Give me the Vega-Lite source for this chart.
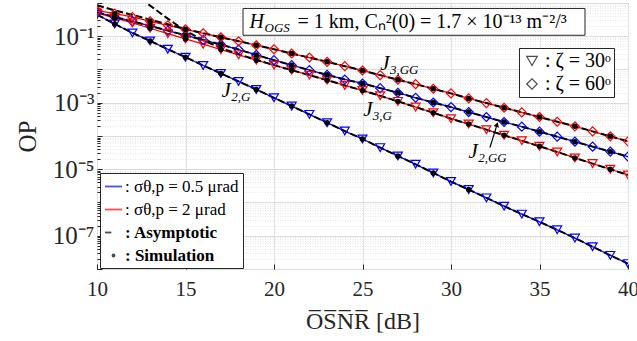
{
"$schema": "https://vega.github.io/schema/vega-lite/v6.json",
"width": 531, "height": 266,
"autosize": {"type": "none"},
"padding": {"left": 97, "top": 3, "right": 9, "bottom": 72},
"background": "white",
"config": {
  "font": "Liberation Serif",
  "view": {"stroke": "#262626", "strokeWidth": 1},
  "axis": {"labelFont": "Liberation Serif", "titleFont": "Liberation Serif", "labelColor": "#262626", "titleColor": "#262626", "titleFontWeight": "normal", "domain": false, "tickColor": "#262626"},
  "legend": {"labelFont": "Liberation Serif", "labelColor": "black"}
},
"datasets": {
"curves": [
{"series":"BT","sigma":"0.5","zeta":"30","osnr":10,"op":0.447,"asym":0.447},
{"series":"BT","sigma":"0.5","zeta":"30","osnr":11,"op":0.234,"asym":0.234,"sim":0.234},
{"series":"BT","sigma":"0.5","zeta":"30","osnr":12,"op":0.126,"asym":0.126},
{"series":"BT","sigma":"0.5","zeta":"30","osnr":13,"op":0.0724,"asym":0.0724,"sim":0.0724},
{"series":"BT","sigma":"0.5","zeta":"30","osnr":14,"op":0.0407,"asym":0.0407},
{"series":"BT","sigma":"0.5","zeta":"30","osnr":15,"op":0.0234,"asym":0.0234,"sim":0.0234},
{"series":"BT","sigma":"0.5","zeta":"30","osnr":16,"op":0.0132,"asym":0.0132},
{"series":"BT","sigma":"0.5","zeta":"30","osnr":17,"op":0.00759,"asym":0.00759,"sim":0.00759},
{"series":"BT","sigma":"0.5","zeta":"30","osnr":18,"op":0.00437,"asym":0.00437},
{"series":"BT","sigma":"0.5","zeta":"30","osnr":19,"op":0.00251,"asym":0.00251,"sim":0.00251},
{"series":"BT","sigma":"0.5","zeta":"30","osnr":20,"op":0.00141,"asym":0.00141},
{"series":"BT","sigma":"0.5","zeta":"30","osnr":21,"op":7.94e-4,"asym":7.94e-4,"sim":7.94e-4},
{"series":"BT","sigma":"0.5","zeta":"30","osnr":22,"op":4.47e-4,"asym":4.47e-4},
{"series":"BT","sigma":"0.5","zeta":"30","osnr":23,"op":2.51e-4,"asym":2.51e-4,"sim":2.51e-4},
{"series":"BT","sigma":"0.5","zeta":"30","osnr":24,"op":1.41e-4,"asym":1.41e-4},
{"series":"BT","sigma":"0.5","zeta":"30","osnr":25,"op":8.13e-5,"asym":8.13e-5,"sim":8.13e-5},
{"series":"BT","sigma":"0.5","zeta":"30","osnr":26,"op":4.47e-5,"asym":4.47e-5},
{"series":"BT","sigma":"0.5","zeta":"30","osnr":27,"op":2.51e-5,"asym":2.51e-5,"sim":2.51e-5},
{"series":"BT","sigma":"0.5","zeta":"30","osnr":28,"op":1.41e-5,"asym":1.41e-5},
{"series":"BT","sigma":"0.5","zeta":"30","osnr":29,"op":7.76e-6,"asym":7.76e-6,"sim":7.76e-6},
{"series":"BT","sigma":"0.5","zeta":"30","osnr":30,"op":4.27e-6,"asym":4.27e-6},
{"series":"BT","sigma":"0.5","zeta":"30","osnr":31,"op":2.45e-6,"asym":2.45e-6,"sim":2.45e-6},
{"series":"BT","sigma":"0.5","zeta":"30","osnr":32,"op":1.38e-6,"asym":1.38e-6},
{"series":"BT","sigma":"0.5","zeta":"30","osnr":33,"op":7.76e-7,"asym":7.76e-7},
{"series":"BT","sigma":"0.5","zeta":"30","osnr":34,"op":4.47e-7,"asym":4.47e-7},
{"series":"BT","sigma":"0.5","zeta":"30","osnr":35,"op":2.63e-7,"asym":2.63e-7},
{"series":"BT","sigma":"0.5","zeta":"30","osnr":36,"op":1.51e-7,"asym":1.51e-7},
{"series":"BT","sigma":"0.5","zeta":"30","osnr":37,"op":8.51e-8,"asym":8.51e-8},
{"series":"BT","sigma":"0.5","zeta":"30","osnr":38,"op":4.68e-8,"asym":4.68e-8},
{"series":"BT","sigma":"0.5","zeta":"30","osnr":39,"op":2.57e-8,"asym":2.57e-8},
{"series":"BT","sigma":"0.5","zeta":"30","osnr":40,"op":1.45e-8,"asym":1.45e-8},
{"series":"BD","sigma":"0.5","zeta":"60","osnr":10,"op":0.525,"asym":0.525},
{"series":"BD","sigma":"0.5","zeta":"60","osnr":11,"op":0.38,"asym":0.38,"sim":0.38},
{"series":"BD","sigma":"0.5","zeta":"60","osnr":12,"op":0.282,"asym":0.282},
{"series":"BD","sigma":"0.5","zeta":"60","osnr":13,"op":0.204,"asym":0.204,"sim":0.204},
{"series":"BD","sigma":"0.5","zeta":"60","osnr":14,"op":0.148,"asym":0.148},
{"series":"BD","sigma":"0.5","zeta":"60","osnr":15,"op":0.107,"asym":0.107,"sim":0.107},
{"series":"BD","sigma":"0.5","zeta":"60","osnr":16,"op":0.0776,"asym":0.0776},
{"series":"BD","sigma":"0.5","zeta":"60","osnr":17,"op":0.0562,"asym":0.0562,"sim":0.0562},
{"series":"BD","sigma":"0.5","zeta":"60","osnr":18,"op":0.0398,"asym":0.0398},
{"series":"BD","sigma":"0.5","zeta":"60","osnr":19,"op":0.0275,"asym":0.0275,"sim":0.0275},
{"series":"BD","sigma":"0.5","zeta":"60","osnr":20,"op":0.0191,"asym":0.0191},
{"series":"BD","sigma":"0.5","zeta":"60","osnr":21,"op":0.0135,"asym":0.0135,"sim":0.0135},
{"series":"BD","sigma":"0.5","zeta":"60","osnr":22,"op":0.00955,"asym":0.00955},
{"series":"BD","sigma":"0.5","zeta":"60","osnr":23,"op":0.00692,"asym":0.00692,"sim":0.00692},
{"series":"BD","sigma":"0.5","zeta":"60","osnr":24,"op":0.00501,"asym":0.00501},
{"series":"BD","sigma":"0.5","zeta":"60","osnr":25,"op":0.0038,"asym":0.0038,"sim":0.0038},
{"series":"BD","sigma":"0.5","zeta":"60","osnr":26,"op":0.00275,"asym":0.00275},
{"series":"BD","sigma":"0.5","zeta":"60","osnr":27,"op":0.002,"asym":0.002,"sim":0.002},
{"series":"BD","sigma":"0.5","zeta":"60","osnr":28,"op":0.00141,"asym":0.00141},
{"series":"BD","sigma":"0.5","zeta":"60","osnr":29,"op":0.00102,"asym":0.00102,"sim":0.00102},
{"series":"BD","sigma":"0.5","zeta":"60","osnr":30,"op":7.41e-4,"asym":7.41e-4},
{"series":"BD","sigma":"0.5","zeta":"60","osnr":31,"op":5.25e-4,"asym":5.25e-4,"sim":5.25e-4},
{"series":"BD","sigma":"0.5","zeta":"60","osnr":32,"op":3.72e-4,"asym":3.72e-4},
{"series":"BD","sigma":"0.5","zeta":"60","osnr":33,"op":2.63e-4,"asym":2.63e-4,"sim":2.63e-4},
{"series":"BD","sigma":"0.5","zeta":"60","osnr":34,"op":1.91e-4,"asym":1.91e-4},
{"series":"BD","sigma":"0.5","zeta":"60","osnr":35,"op":1.35e-4,"asym":1.35e-4,"sim":1.35e-4},
{"series":"BD","sigma":"0.5","zeta":"60","osnr":36,"op":9.55e-5,"asym":9.55e-5},
{"series":"BD","sigma":"0.5","zeta":"60","osnr":37,"op":6.76e-5,"asym":6.76e-5,"sim":6.76e-5},
{"series":"BD","sigma":"0.5","zeta":"60","osnr":38,"op":4.79e-5,"asym":4.79e-5},
{"series":"BD","sigma":"0.5","zeta":"60","osnr":39,"op":3.39e-5,"asym":3.39e-5,"sim":3.39e-5},
{"series":"BD","sigma":"0.5","zeta":"60","osnr":40,"op":2.4e-5,"asym":2.4e-5},
{"series":"RT","sigma":"2","zeta":"30","osnr":10,"op":0.501},
{"series":"RT","sigma":"2","zeta":"30","osnr":11,"op":0.355,"sim":0.355},
{"series":"RT","sigma":"2","zeta":"30","osnr":12,"op":0.251,"asym":2.09},
{"series":"RT","sigma":"2","zeta":"30","osnr":13,"op":0.174,"asym":0.832,"sim":0.174},
{"series":"RT","sigma":"2","zeta":"30","osnr":14,"op":0.12,"asym":0.339},
{"series":"RT","sigma":"2","zeta":"30","osnr":15,"op":0.0832,"asym":0.145,"sim":0.0832},
{"series":"RT","sigma":"2","zeta":"30","osnr":16,"op":0.0575,"asym":0.0759},
{"series":"RT","sigma":"2","zeta":"30","osnr":17,"op":0.0398,"asym":0.0447,"sim":0.0398},
{"series":"RT","sigma":"2","zeta":"30","osnr":18,"op":0.0275,"asym":0.0288},
{"series":"RT","sigma":"2","zeta":"30","osnr":19,"op":0.0191,"asym":0.0195,"sim":0.0191},
{"series":"RT","sigma":"2","zeta":"30","osnr":20,"op":0.0135,"asym":0.0135},
{"series":"RT","sigma":"2","zeta":"30","osnr":21,"op":0.00955,"asym":0.00955,"sim":0.00955},
{"series":"RT","sigma":"2","zeta":"30","osnr":22,"op":0.00676,"asym":0.00676},
{"series":"RT","sigma":"2","zeta":"30","osnr":23,"op":0.00479,"asym":0.00479,"sim":0.00479},
{"series":"RT","sigma":"2","zeta":"30","osnr":24,"op":0.00331,"asym":0.00331},
{"series":"RT","sigma":"2","zeta":"30","osnr":25,"op":0.00234,"asym":0.00234,"sim":0.00234},
{"series":"RT","sigma":"2","zeta":"30","osnr":26,"op":0.00162,"asym":0.00162},
{"series":"RT","sigma":"2","zeta":"30","osnr":27,"op":0.0011,"asym":0.0011,"sim":0.0011},
{"series":"RT","sigma":"2","zeta":"30","osnr":28,"op":7.41e-4,"asym":7.41e-4},
{"series":"RT","sigma":"2","zeta":"30","osnr":29,"op":5.01e-4,"asym":5.01e-4,"sim":5.01e-4},
{"series":"RT","sigma":"2","zeta":"30","osnr":30,"op":3.31e-4,"asym":3.31e-4},
{"series":"RT","sigma":"2","zeta":"30","osnr":31,"op":2.29e-4,"asym":2.29e-4,"sim":2.29e-4},
{"series":"RT","sigma":"2","zeta":"30","osnr":32,"op":1.55e-4,"asym":1.55e-4},
{"series":"RT","sigma":"2","zeta":"30","osnr":33,"op":1.05e-4,"asym":1.05e-4,"sim":1.05e-4},
{"series":"RT","sigma":"2","zeta":"30","osnr":34,"op":7.24e-5,"asym":7.24e-5},
{"series":"RT","sigma":"2","zeta":"30","osnr":35,"op":4.9e-5,"asym":4.9e-5,"sim":4.9e-5},
{"series":"RT","sigma":"2","zeta":"30","osnr":36,"op":3.31e-5,"asym":3.31e-5},
{"series":"RT","sigma":"2","zeta":"30","osnr":37,"op":2.19e-5,"asym":2.19e-5,"sim":2.19e-5},
{"series":"RT","sigma":"2","zeta":"30","osnr":38,"op":1.48e-5,"asym":1.48e-5},
{"series":"RT","sigma":"2","zeta":"30","osnr":39,"op":1.0e-5,"asym":1.0e-5,"sim":1.0e-5},
{"series":"RT","sigma":"2","zeta":"30","osnr":40,"op":6.76e-6,"asym":6.76e-6},
{"series":"RD","sigma":"2","zeta":"60","osnr":10,"op":0.603,"asym":0.851},
{"series":"RD","sigma":"2","zeta":"60","osnr":11,"op":0.479,"asym":0.603,"sim":0.479},
{"series":"RD","sigma":"2","zeta":"60","osnr":12,"op":0.38,"asym":0.437},
{"series":"RD","sigma":"2","zeta":"60","osnr":13,"op":0.282,"asym":0.316,"sim":0.282},
{"series":"RD","sigma":"2","zeta":"60","osnr":14,"op":0.214,"asym":0.229},
{"series":"RD","sigma":"2","zeta":"60","osnr":15,"op":0.162,"asym":0.166,"sim":0.162},
{"series":"RD","sigma":"2","zeta":"60","osnr":16,"op":0.123,"asym":0.123},
{"series":"RD","sigma":"2","zeta":"60","osnr":17,"op":0.0933,"asym":0.0933,"sim":0.0933},
{"series":"RD","sigma":"2","zeta":"60","osnr":18,"op":0.0708,"asym":0.0708},
{"series":"RD","sigma":"2","zeta":"60","osnr":19,"op":0.0537,"asym":0.0537,"sim":0.0537},
{"series":"RD","sigma":"2","zeta":"60","osnr":20,"op":0.0407,"asym":0.0407},
{"series":"RD","sigma":"2","zeta":"60","osnr":21,"op":0.0302,"asym":0.0302,"sim":0.0302},
{"series":"RD","sigma":"2","zeta":"60","osnr":22,"op":0.0229,"asym":0.0229},
{"series":"RD","sigma":"2","zeta":"60","osnr":23,"op":0.017,"asym":0.017,"sim":0.017},
{"series":"RD","sigma":"2","zeta":"60","osnr":24,"op":0.0126,"asym":0.0126},
{"series":"RD","sigma":"2","zeta":"60","osnr":25,"op":0.00933,"asym":0.00933,"sim":0.00933},
{"series":"RD","sigma":"2","zeta":"60","osnr":26,"op":0.00676,"asym":0.00676},
{"series":"RD","sigma":"2","zeta":"60","osnr":27,"op":0.0049,"asym":0.0049,"sim":0.0049},
{"series":"RD","sigma":"2","zeta":"60","osnr":28,"op":0.00363,"asym":0.00363},
{"series":"RD","sigma":"2","zeta":"60","osnr":29,"op":0.00263,"asym":0.00263,"sim":0.00263},
{"series":"RD","sigma":"2","zeta":"60","osnr":30,"op":0.00191,"asym":0.00191},
{"series":"RD","sigma":"2","zeta":"60","osnr":31,"op":0.00135,"asym":0.00135,"sim":0.00135},
{"series":"RD","sigma":"2","zeta":"60","osnr":32,"op":9.77e-4,"asym":9.77e-4},
{"series":"RD","sigma":"2","zeta":"60","osnr":33,"op":7.08e-4,"asym":7.08e-4,"sim":7.08e-4},
{"series":"RD","sigma":"2","zeta":"60","osnr":34,"op":5.13e-4,"asym":5.13e-4},
{"series":"RD","sigma":"2","zeta":"60","osnr":35,"op":3.72e-4,"asym":3.72e-4,"sim":3.72e-4},
{"series":"RD","sigma":"2","zeta":"60","osnr":36,"op":2.69e-4,"asym":2.69e-4},
{"series":"RD","sigma":"2","zeta":"60","osnr":37,"op":1.95e-4,"asym":1.95e-4,"sim":1.95e-4},
{"series":"RD","sigma":"2","zeta":"60","osnr":38,"op":1.38e-4,"asym":1.38e-4},
{"series":"RD","sigma":"2","zeta":"60","osnr":39,"op":9.77e-5,"asym":9.77e-5,"sim":9.77e-5},
{"series":"RD","sigma":"2","zeta":"60","osnr":40,"op":6.92e-5,"asym":6.92e-5}
],
"box": [{"bx": 18.25, "bx2": 37.57, "by": 0.686, "by2": 0.107, "tx": 18.62, "ty": 0.174}],
"arrow": [{"ax": 32.2, "ay": 4.47e-5, "ax2": 32.6, "ay2": 2.2e-4}]
},
"data": {"name": "curves"},
"encoding": {
  "x": {"field": "osnr", "type": "quantitative", "scale": {"domain": [10, 40], "nice": false, "zero": false},
        "axis": {"values": [10,15,20,25,30,35,40], "title": "O\u0305S\u0305N\u0305R\u0305 [dB]", "labelFontSize": 21, "titleFontSize": 24, "labelPadding": 14, "titlePadding": 10, "grid": true, "gridColor": "#e2e2e2", "ticks": true, "tickSize": -5, "labelFlush": false}},
  "y": {"field": "op", "type": "quantitative", "scale": {"type": "log", "domain": [1e-8, 1], "nice": false},
        "axis": {"values": [1e-8,2e-8,3e-8,4e-8,5e-8,6e-8,7e-8,8e-8,9e-8,1e-7,2e-7,3e-7,4e-7,5e-7,6e-7,7e-7,8e-7,9e-7,1e-6,2e-6,3e-6,4e-6,5e-6,6e-6,7e-6,8e-6,9e-6,1e-5,2e-5,3e-5,4e-5,5e-5,6e-5,7e-5,8e-5,9e-5,1e-4,2e-4,3e-4,4e-4,5e-4,6e-4,7e-4,8e-4,9e-4,0.001,0.002,0.003,0.004,0.005,0.006,0.007,0.008,0.009,0.01,0.02,0.03,0.04,0.05,0.06,0.07,0.08,0.09,0.1,0.2,0.3,0.4,0.5,0.6,0.7,0.8,0.9,1],
                 "labelExpr": "abs(log(datum.value)/LN10 - round(log(datum.value)/LN10)) < 0.001 && round(log(datum.value)/LN10) % 2 != 0 ? '10\u207b' + ['\u2070','\u00b9','\u00b2','\u00b3','\u2074','\u2075','\u2076','\u2077','\u2078','\u2079'][-round(log(datum.value)/LN10)] : ''",
                 "labelOverlap": false, "labelFontSize": 25, "labelPadding": 8, "title": "OP", "titleFontSize": 25, "titlePadding": 12,
                 "grid": true,
                 "gridColor": {"condition": {"test": "abs(log(datum.value)/LN10 - round(log(datum.value)/LN10)) < 0.001", "value": "#dcdcdc"}, "value": "#e6e6e6"},
                 "gridDash": {"condition": {"test": "abs(log(datum.value)/LN10 - round(log(datum.value)/LN10)) < 0.001", "value": []}, "value": [1, 1.5]},
                 "tickSize": {"condition": {"test": "abs(log(datum.value)/LN10 - round(log(datum.value)/LN10)) < 0.001", "value": -5}, "value": -3}}}
},
"layer": [
  {"mark": {"type": "line", "strokeWidth": 1.3, "clip": true},
   "encoding": {"color": {"field": "sigma", "type": "nominal", "scale": {"domain": ["0.5", "2"], "range": ["#0000ff", "#ff0000"]}, "legend": null}, "detail": {"field": "series"}}},
  {"mark": {"type": "line", "color": "black", "strokeWidth": 2, "strokeDash": [7, 3], "clip": true},
   "encoding": {"y": {"field": "asym", "type": "quantitative", "title": "OP"}, "detail": {"field": "series"}}},
  {"mark": {"type": "point", "filled": false, "strokeWidth": 1.2, "opacity": 1, "size": 80, "clip": true},
   "encoding": {"color": {"field": "sigma", "type": "nominal", "scale": {"domain": ["0.5", "2"], "range": ["#0000ff", "#ff0000"]}, "legend": null},
                "shape": {"field": "zeta", "type": "nominal", "scale": {"domain": ["30", "60"], "range": ["triangle-down", "diamond"]}, "legend": null}}},
  {"mark": {"type": "circle", "color": "black", "size": 30, "opacity": 1, "clip": true},
   "encoding": {"y": {"field": "sim", "type": "quantitative", "title": "OP"}}},
  {"data": {"name": "box"},
   "layer": [
     {"mark": {"type": "rect", "fill": "white", "stroke": "#262626", "strokeWidth": 1},
      "encoding": {"x": {"field": "bx", "type": "quantitative"}, "x2": {"field": "bx2"}, "y": {"field": "by", "type": "quantitative", "title": "OP"}, "y2": {"field": "by2"}}},
     {"mark": {"type": "text", "text": "H", "fontStyle": "italic", "fontWeight": "normal", "fontSize": 20, "align": "left", "baseline": "alphabetic", "color": "black"},
      "encoding": {"x": {"field": "tx", "type": "quantitative"}, "y": {"field": "ty", "type": "quantitative", "title": "OP"}}},
     {"mark": {"type": "text", "text": "OGS", "fontStyle": "italic", "fontWeight": "normal", "fontSize": 13, "align": "left", "baseline": "alphabetic", "dx": 15, "dy": 4, "color": "black"},
      "encoding": {"x": {"field": "tx", "type": "quantitative"}, "y": {"field": "ty", "type": "quantitative", "title": "OP"}}},
     {"mark": {"type": "text", "text": "= 1 km, C\u2099\u00b2(0) = 1.7 \u00d7 10\u207b\u00b9\u00b3 m\u207b\u00b2/\u00b3", "fontWeight": "normal", "fontSize": 20, "align": "left", "baseline": "alphabetic", "dx": 48, "color": "black"},
      "encoding": {"x": {"field": "tx", "type": "quantitative"}, "y": {"field": "ty", "type": "quantitative", "title": "OP"}}}
   ]},
  {"data": {"values": [{"j": "2,G", "lx": 17.3, "ly": 0.00229}, {"j": "3,GG", "lx": 26.27, "ly": 0.0151}, {"j": "3,G", "lx": 25.3, "ly": 0.000617}, {"j": "2,GG", "lx": 31.25, "ly": 0.0000324}]},
   "layer": [
     {"mark": {"type": "text", "text": "J", "fontStyle": "italic", "fontSize": 21, "align": "center", "baseline": "middle", "color": "black"},
      "encoding": {"x": {"field": "lx", "type": "quantitative"}, "y": {"field": "ly", "type": "quantitative", "title": "OP"}}},
     {"mark": {"type": "text", "fontStyle": "italic", "fontSize": 13, "align": "left", "baseline": "middle", "dx": 5, "dy": 6, "color": "black"},
      "encoding": {"x": {"field": "lx", "type": "quantitative"}, "y": {"field": "ly", "type": "quantitative", "title": "OP"}, "text": {"field": "j"}}}
   ]},
  {"data": {"name": "arrow"},
   "layer": [
     {"mark": {"type": "rule", "color": "black", "strokeWidth": 1.2},
      "encoding": {"x": {"field": "ax", "type": "quantitative"}, "y": {"field": "ay", "type": "quantitative", "title": "OP"}, "x2": {"field": "ax2"}, "y2": {"field": "ay2"}}},
     {"mark": {"type": "point", "shape": "triangle-up", "filled": true, "color": "black", "size": 30, "angle": 17, "opacity": 1},
      "encoding": {"x": {"field": "ax2", "type": "quantitative"}, "y": {"field": "ay2", "type": "quantitative", "title": "OP"}}}
   ]},
  {"data": {"values": [{"item": ": \u03c3\u03b8,p = 0.5 \u03bcrad"}, {"item": ": \u03c3\u03b8,p = 2 \u03bcrad"}, {"item": ": Asymptotic"}, {"item": ": Simulation"}]},
   "mark": {"type": "point", "filled": false, "clip": true, "strokeWidth": 1.8},
   "encoding": {"x": {"datum": 5}, "y": {"datum": 0.01},
     "color": {"field": "item", "type": "nominal", "scale": {"domain": [": \u03c3\u03b8,p = 0.5 \u03bcrad", ": \u03c3\u03b8,p = 2 \u03bcrad", ": Asymptotic", ": Simulation"], "range": ["#0000ff", "#ff0000", "black", "black"]},
              "legend": {"orient": "none", "legendX": 3, "legendY": 170, "title": null, "fillColor": "white", "strokeColor": "#262626", "padding": 4, "rowPadding": 5, "symbolSize": 290, "symbolStrokeWidth": 1.8, "symbolFillColor": "black", "labelFontSize": 17, "labelOffset": 2, "labelFontWeight": {"expr": "indexof(datum.label, 'Asym') >= 0 || indexof(datum.label, 'Simul') >= 0 ? 'bold' : 'normal'"}}},
     "shape": {"field": "item", "type": "nominal", "scale": {"domain": [": \u03c3\u03b8,p = 0.5 \u03bcrad", ": \u03c3\u03b8,p = 2 \u03bcrad", ": Asymptotic", ": Simulation"], "range": ["stroke", "stroke", "M-1,0L-0.25,0", "M-0.12,0A0.12,0.12,0,1,1,0.12,0A0.12,0.12,0,1,1,-0.12,0Z"]},
              "legend": {"orient": "none", "legendX": 3, "legendY": 170, "title": null, "fillColor": "white", "strokeColor": "#262626", "padding": 4, "rowPadding": 5, "symbolSize": 290, "symbolStrokeWidth": 1.8, "symbolFillColor": "black", "labelFontSize": 17, "labelOffset": 2, "labelFontWeight": {"expr": "indexof(datum.label, 'Asym') >= 0 || indexof(datum.label, 'Simul') >= 0 ? 'bold' : 'normal'"}}}}},
  {"data": {"values": [{"zl": ": \u03b6 = 30\u1d52"}, {"zl": ": \u03b6 = 60\u1d52"}]},
   "mark": {"type": "point", "filled": false, "color": "black", "clip": true},
   "encoding": {"x": {"datum": 5}, "y": {"datum": 0.01},
     "shape": {"field": "zl", "type": "nominal", "scale": {"domain": [": \u03b6 = 30\u1d52", ": \u03b6 = 60\u1d52"], "range": ["triangle-down", "diamond"]},
               "legend": {"orient": "none", "legendX": 422, "legendY": 45, "title": null, "fillColor": "white", "strokeColor": "#262626", "padding": 3, "rowPadding": 3, "symbolSize": 110, "symbolStrokeWidth": 1.2, "symbolStrokeColor": "black", "labelFontSize": 20, "labelOffset": 3}}}}
],
"resolve": {"scale": {"shape": "independent", "color": "independent"}, "legend": {"shape": "independent", "color": "independent"}}
}
